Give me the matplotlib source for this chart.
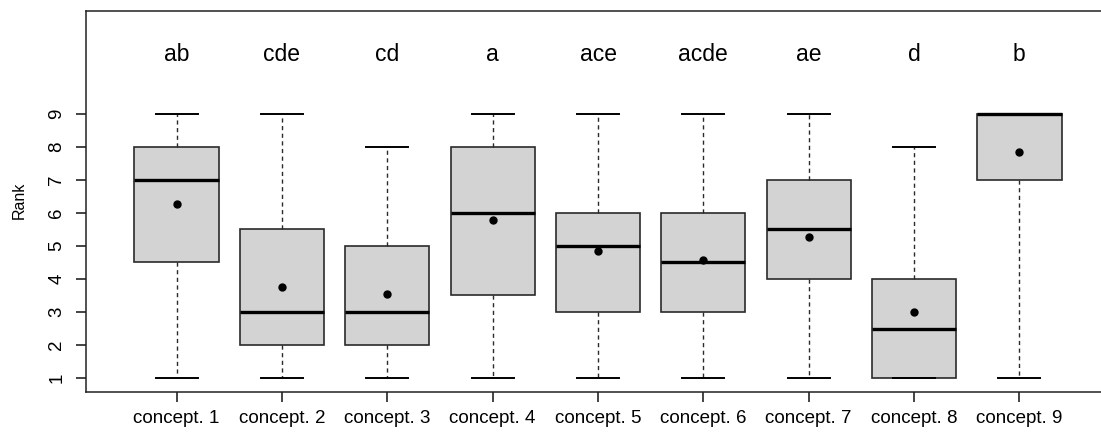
import matplotlib
matplotlib.use("Agg")
import matplotlib.pyplot as plt

concepts = [f"concept. {i}" for i in range(1, 10)]
whisker_low = [1, 1, 1, 1, 1, 1, 1, 1, 1]
q1 = [4.5, 2, 2, 3.5, 3, 3, 4, 1, 7]
medians = [7, 3, 3, 6, 5, 4.5, 5.5, 2.5, 9]
q3 = [8, 5.5, 5, 8, 6, 6, 7, 4, 9]
whisker_high = [9, 9, 8, 9, 9, 9, 9, 8, 9]
means = [6.27, 3.75, 3.55, 5.79, 4.86, 4.58, 5.28, 3.01, 7.86]
letters = ["ab", "cde", "cd", "a", "ace", "acde", "ae", "d", "b"]

plt.rcParams["font.family"] = ["Liberation Sans", "DejaVu Sans"]

fig = plt.figure(figsize=(11.01, 4.33), dpi=100)
# right edge of the plot box falls just outside the image, as in the original
ax = fig.add_axes([86 / 1101, 41 / 433, 1024 / 1101, 381 / 433])

stats = []
for i in range(len(concepts)):
    stats.append({"whislo": whisker_low[i], "q1": q1[i], "med": medians[i],
                  "q3": q3[i], "whishi": whisker_high[i], "fliers": []})

positions = list(range(1, len(concepts) + 1))
ax.bxp(stats, positions=positions, widths=0.8, patch_artist=True,
       showfliers=False,
       boxprops=dict(facecolor="#d3d3d3", edgecolor="#2a2a2a", linewidth=1.2),
       medianprops=dict(color="black", linewidth=2.4, solid_capstyle="butt"),
       whiskerprops=dict(color="#2a2a2a", linewidth=1.0, linestyle=(0, (3, 2.5))),
       capprops=dict(color="black", linewidth=1.4),
       capwidths=0.4)

ax.plot(positions, means, "o", color="black", markersize=5, zorder=5)

for p, lab in zip(positions, letters):
    ax.text(p, 10.79, lab, ha="center", va="center", fontsize=16.5)

ax.set_xlim(0.14, 9.86)
ax.set_ylim(0.576, 12.12)
ax.set_xticks(positions)
ax.set_xticklabels(concepts, fontsize=13.5)
ax.set_yticks(range(1, 10))
ax.set_yticklabels([str(v) for v in range(1, 10)], fontsize=13.5, rotation=90,
                   va="center")
ax.tick_params(axis="both", direction="out", length=7, width=1.1, color="#111111")
ax.tick_params(axis="y", pad=8)
ax.tick_params(axis="x", pad=6)
for s in ax.spines.values():
    s.set_color("#222222")
    s.set_linewidth(1.1)

fig.text(19 / 1101, (433 - 200) / 433, "Rank", rotation=90, ha="center",
         va="center", fontsize=11.5)

fig.savefig("out.png", dpi=100)
